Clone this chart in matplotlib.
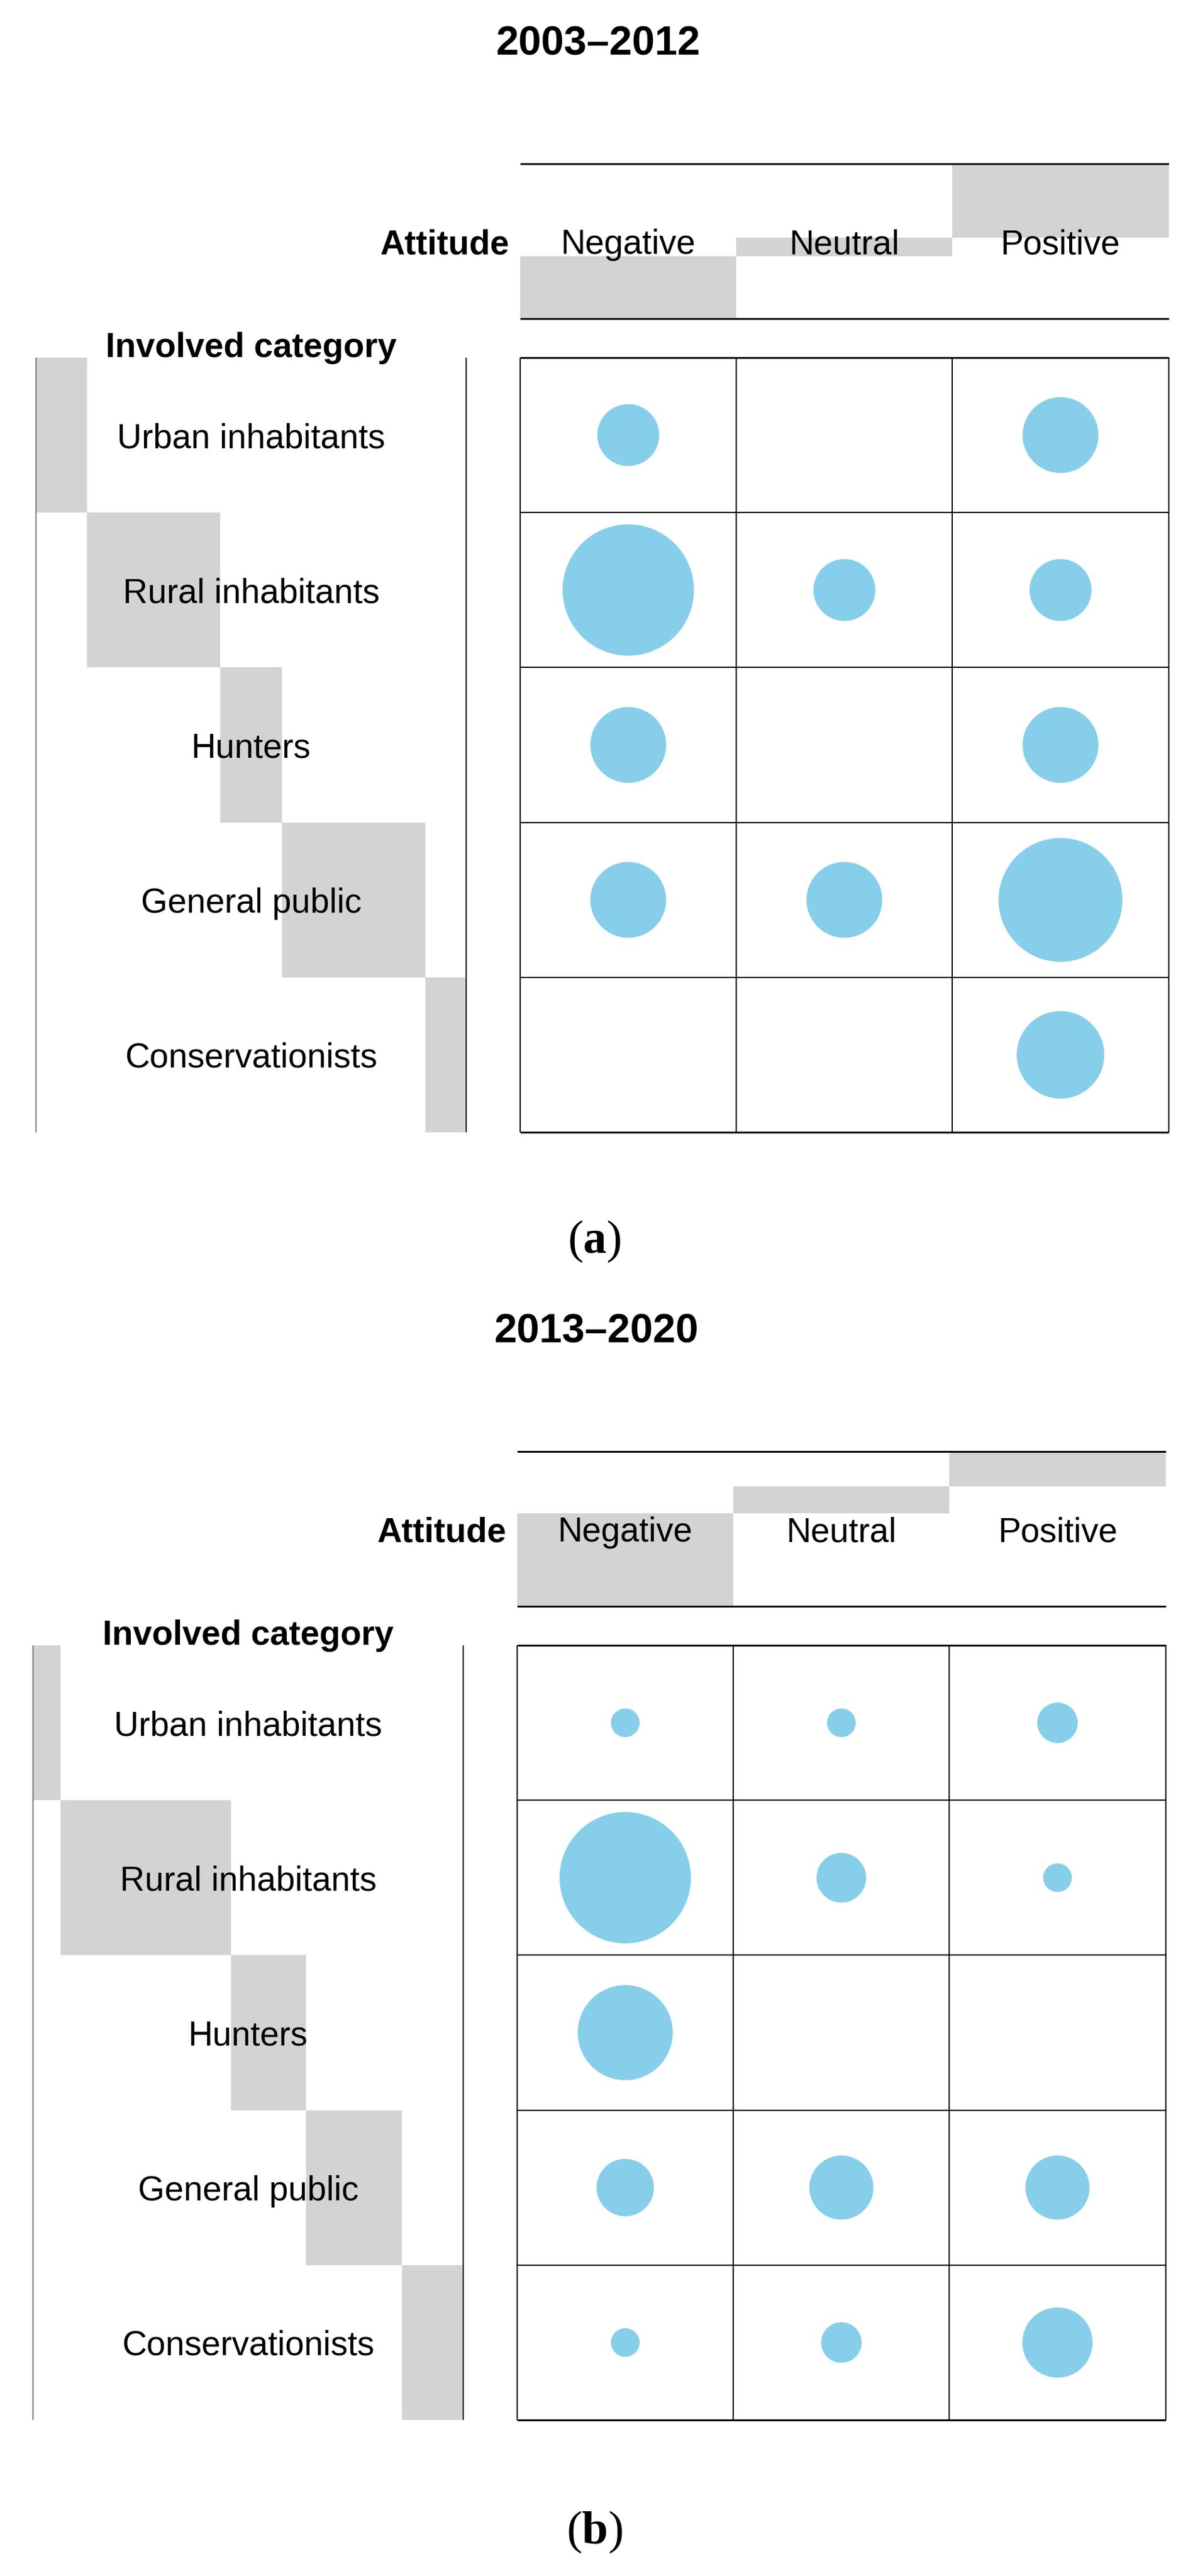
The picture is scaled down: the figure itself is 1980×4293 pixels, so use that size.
import numpy as np
import matplotlib
matplotlib.use("Agg")
import matplotlib.pyplot as plt
from matplotlib.patches import Rectangle

plt.rcParams['font.family'] = ['Liberation Sans', 'DejaVu Sans']
plt.rcParams['mathtext.fontset'] = 'custom'
plt.rcParams['mathtext.rm'] = 'Liberation Serif'
plt.rcParams['mathtext.bf'] = 'Liberation Serif:bold'

# ---------------- data ----------------
categories = ["Urban inhabitants", "Rural inhabitants", "Hunters",
              "General public", "Conservationists"]
attitudes = ["Negative", "Neutral", "Positive"]
# rows = categories, columns = attitudes
counts_2003_2012 = [[2, 0, 3],
                    [9, 2, 2],
                    [3, 0, 3],
                    [3, 3, 8],
                    [0, 0, 4]]
counts_2013_2020 = [[1, 1, 2],
                    [21, 3, 1],
                    [11, 0, 0],
                    [4, 5, 5],
                    [1, 2, 6]]
titles = ["2003–2012", "2013–2020"]
panel_tags = ["a", "b"]

# ---------------- style / layout ----------------
W, H, DPI = 1981, 4293, 100
GRAY = "#D3D3D3"
BUBBLE = "#87CEEB"
LABEL_FS = 41
TITLE_FS = 49
TAG_FS = 56
COL_PX = 360.2
ROW_PX = 258.2
LAB_X0, LAB_W = -2.24, 1.99      # label region in column units
MAXD = 0.848                      # max balloon diameter in row units

fig = plt.figure(figsize=(W / DPI, H / DPI), dpi=DPI)

# (panel top px, panel height px, grid left px, grid top px rel. panel,
#  title x px, title baseline px rel. panel, tag centre px rel. panel)
panels = [(0, 2145, 867, 596, 997, 92, 2069),
          (2145, 2148, 862, 597, 994, 92, 2075)]


def draw_panel(ax, counts, title, tag, geom):
    top, ph, gl, gt, tx, ty, tagy = geom
    counts = np.asarray(counts, dtype=float)
    nr, nc = counts.shape
    total = counts.sum()
    rsum = counts.sum(axis=1)
    csum = counts.sum(axis=0)

    ax.set_xlim(-gl / COL_PX, (W - gl) / COL_PX)
    ax.set_ylim((ph - gt) / ROW_PX, -gt / ROW_PX)
    ax.axis('off')

    # header (column margin bars)
    hb_top, hb_bot = -1.25, -0.25
    cum = 0.0
    for j in range(nc):
        h = csum[j] / total * (hb_bot - hb_top)
        ax.add_patch(Rectangle((j, hb_bot - cum - h), 1, h, fc=GRAY, ec='none', zorder=1))
        cum += h
    ax.hlines([hb_top, hb_bot], 0, nc, colors='black', lw=2.2, zorder=3)
    for j, lab in enumerate(attitudes):
        ax.text(j + 0.5, (hb_top + hb_bot) / 2, lab, ha='center', va='center_baseline',
                fontsize=LABEL_FS, zorder=4)
    ax.text(-0.05, (hb_top + hb_bot) / 2, "Attitude", ha='right', va='center_baseline',
            fontsize=LABEL_FS, fontweight='bold', zorder=4)

    # row margin bars
    cum = 0.0
    for i in range(nr):
        w = rsum[i] / total * LAB_W
        ax.add_patch(Rectangle((LAB_X0 + cum, i), w, 1, fc=GRAY, ec='none', zorder=1))
        cum += w
    ax.vlines(LAB_X0, 0, nr, colors='#7a7a7a', lw=1.4, zorder=3)
    ax.vlines(LAB_X0 + LAB_W, 0, nr, colors='black', lw=1.4, zorder=3)
    for i, lab in enumerate(categories):
        ax.text(LAB_X0 + LAB_W / 2, i + 0.5, lab, ha='center', va='center_baseline',
                fontsize=LABEL_FS, zorder=4)
    ax.text(LAB_X0 + LAB_W / 2, -0.085, "Involved category", ha='center',
            va='center_baseline', fontsize=LABEL_FS, fontweight='bold', zorder=4)

    # grid
    ax.vlines(np.arange(nc + 1), 0, nr, colors='black', lw=1.5, zorder=3)
    ax.hlines(np.arange(1, nr), 0, nc, colors='black', lw=1.5, zorder=3)
    ax.hlines([0, nr], 0, nc, colors='black', lw=2.2, zorder=3)

    # balloons (area proportional to count)
    fig.canvas.draw()
    row_px = abs(ax.transData.transform((0, 1))[1] - ax.transData.transform((0, 0))[1])
    vmax = counts.max()
    xs, ys, ss = [], [], []
    for i in range(nr):
        for j in range(nc):
            v = counts[i, j]
            if v > 0:
                d_px = MAXD * row_px * np.sqrt(v / vmax)
                xs.append(j + 0.5)
                ys.append(i + 0.5)
                ss.append((d_px * 72.0 / DPI) ** 2)
    ax.scatter(xs, ys, s=ss, c=BUBBLE, marker='o', linewidths=0, zorder=2)

    # title and tag
    fig.text(tx / W, 1 - (top + ty) / H, title, ha='center', va='baseline',
             fontsize=TITLE_FS, fontweight='bold')
    fig.text(991 / W, 1 - (top + tagy) / H, "(" + r"$\mathbf{" + tag + "}$" + ")",
             ha='center', va='center', fontsize=TAG_FS, family='Liberation Serif')


for counts, title, tag, geom in zip([counts_2003_2012, counts_2013_2020],
                                     titles, panel_tags, panels):
    top, ph = geom[0], geom[1]
    ax = fig.add_axes([0, 1 - (top + ph) / H, 1, ph / H])
    draw_panel(ax, counts, title, tag, geom)

fig.savefig("out.png", dpi=DPI, facecolor='white')
